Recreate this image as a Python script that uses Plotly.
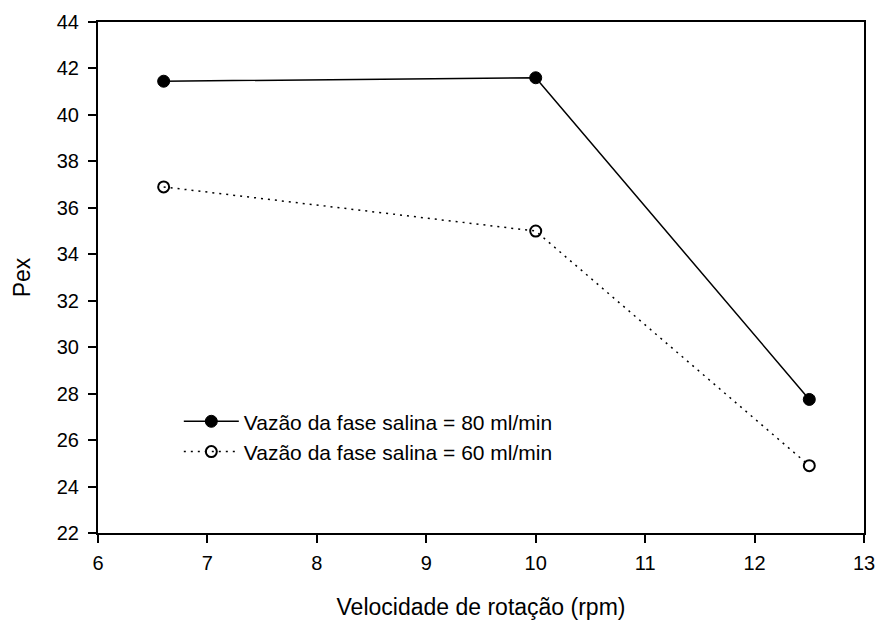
import plotly.graph_objects as go

x_vals = [6.6, 10, 12.5]
pex_80 = [41.45, 41.6, 27.75]
pex_60 = [36.9, 35.0, 24.9]
name_80 = "Vazão da fase salina = 80 ml/min"
name_60 = "Vazão da fase salina = 60 ml/min"
x_ticks = [6, 7, 8, 9, 10, 11, 12, 13]
y_ticks = [22, 24, 26, 28, 30, 32, 34, 36, 38, 40, 42, 44]

FONT = "Liberation Sans, Arial, sans-serif"

fig = go.Figure()
fig.add_trace(go.Scatter(
    x=x_vals, y=pex_80, name=name_80, mode="lines+markers",
    line=dict(color="black", width=1.5),
    marker=dict(symbol="circle", size=12, color="black", line=dict(color="black", width=1)),
))
fig.add_trace(go.Scatter(
    x=x_vals, y=pex_60, name=name_60, mode="lines+markers",
    line=dict(color="black", width=1.5, dash="2px,5px"),
    marker=dict(symbol="circle-open", size=11, color="black", line=dict(color="black", width=2)),
))

axis_common = dict(
    showgrid=False, zeroline=False, showline=True, linecolor="black", linewidth=2,
    mirror=True, ticks="outside", ticklen=8, tickwidth=2, tickcolor="black",
    automargin=False,
    tickfont=dict(family=FONT, size=20, color="black"),
)
fig.update_xaxes(range=[6, 13], tickvals=x_ticks, ticklabelstandoff=3, **axis_common,
                 title=dict(text="Velocidade de rotação (rpm)", standoff=35,
                            font=dict(family=FONT, size=23, color="black")))
fig.update_yaxes(range=[22, 44], tickvals=y_ticks, ticklabelstandoff=5, **axis_common,
                 title=dict(text="Pex", standoff=20,
                            font=dict(family=FONT, size=23, color="black")))

fig.update_layout(
    width=877, height=620,
    margin=dict(l=98, r=13, t=22, b=87),
    plot_bgcolor="white", paper_bgcolor="white",
    font=dict(family=FONT, color="black"),
    legend=dict(x=0.1055, y=0.258, xanchor="left", yanchor="top",
                bgcolor="rgba(0,0,0,0)", font=dict(family=FONT, size=21, color="black"),
                itemwidth=55, tracegroupgap=0),
    showlegend=True,
)
fig.write_html(
    "out.html",
    config={"displayModeBar": False},
    post_script="document.body.style.margin='0';document.body.style.overflow='hidden';",
)
